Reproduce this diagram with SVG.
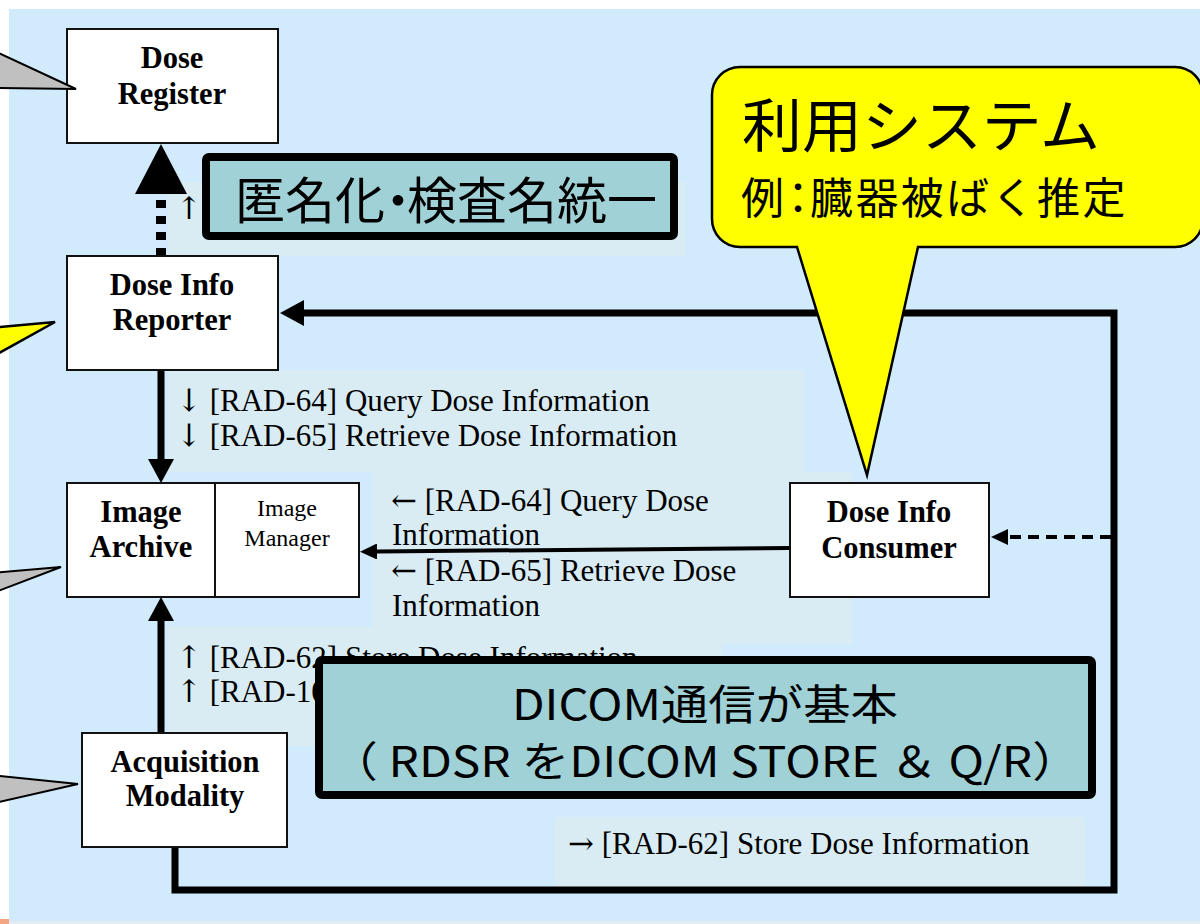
<svg xmlns="http://www.w3.org/2000/svg" width="1200" height="924" viewBox="0 0 1200 924">
<style>
.node{fill:#fff;stroke:#111;stroke-width:2}
.nt{font-family:"Liberation Serif","Times New Roman",serif;font-weight:bold;font-size:30.5px;text-anchor:middle;fill:#000}
.nts{font-family:"Liberation Serif","Times New Roman",serif;font-size:24px;text-anchor:middle;fill:#000}
.lbl{font-family:"Liberation Serif","Times New Roman",serif;font-size:31px;fill:#000}
.ar{font-family:"DejaVu Serif","Liberation Serif",serif;font-size:31px}
.lbox{fill:#D9ECF3}
.teal{fill:#9FD1D6;stroke:#000;stroke-width:8}
.jp{font-family:"Noto Sans CJK JP","Noto Sans CJK SC",sans-serif;fill:#000}
.callg{fill:#C0C0C0;stroke:#000;stroke-width:2;stroke-linejoin:miter}
.cally{fill:#FFFF00;stroke:#000;stroke-width:2.5}
.thick{fill:none;stroke:#000;stroke-width:7}
.mid{fill:none;stroke:#000;stroke-width:4}
</style>
<defs>
<marker id="aL" viewBox="0 0 24 26" refX="0" refY="13" markerWidth="24" markerHeight="26" markerUnits="userSpaceOnUse" orient="auto"><path d="M0,0 L24,13 L0,26 Z" fill="#000"/></marker>
<marker id="aXL" viewBox="0 0 50 52" refX="0" refY="26" markerWidth="50" markerHeight="52" markerUnits="userSpaceOnUse" orient="auto"><path d="M0,0 L50,26 L0,52 Z" fill="#000"/></marker>
<marker id="aS" viewBox="0 0 17 16" refX="0" refY="8" markerWidth="17" markerHeight="16" markerUnits="userSpaceOnUse" orient="auto"><path d="M0,0 L17,8 L0,16 Z" fill="#000"/></marker>
</defs>

<rect x="0" y="0" width="1200" height="924" fill="#fff"/>
<rect x="9" y="9" width="1191" height="912" fill="#D1EBFD"/>
<rect x="9" y="921" width="1191" height="3" fill="#E4ECF1"/>
<rect x="0" y="919" width="9" height="5" fill="#F4A582"/>

<g id="label-boxes">
<rect class="lbox" x="168" y="182" width="517" height="74"/>
<rect class="lbox" x="168" y="370" width="636" height="102"/>
<rect class="lbox" x="372" y="472" width="480" height="172"/>
<rect class="lbox" x="168" y="627" width="554" height="119"/>
<rect class="lbox" x="555" y="817" width="530" height="70"/>
</g>

<g id="labels">
<text class="lbl" x="176" y="219"><tspan class="ar" font-size="29">↑</tspan></text>
<text class="lbl" x="176" y="411"><tspan class="ar">↓</tspan> [RAD-64] Query Dose Information</text>
<text class="lbl" x="176" y="446"><tspan class="ar">↓</tspan> [RAD-65] Retrieve Dose Information</text>
<text class="lbl" x="391" y="511"><tspan class="ar" font-size="33">←</tspan> [RAD-64] Query Dose</text>
<text class="lbl" x="392" y="545">Information</text>
<text class="lbl" x="391" y="581"><tspan class="ar" font-size="33">←</tspan> [RAD-65] Retrieve Dose</text>
<text class="lbl" x="392" y="616">Information</text>
<text class="lbl" x="176" y="668"><tspan class="ar">↑</tspan> [RAD-62] Store Dose Information</text>
<text class="lbl" x="176" y="702"><tspan class="ar">↑</tspan> [RAD-10]</text>
<text class="lbl" x="568" y="854"><tspan class="ar">→</tspan> [RAD-62] Store Dose Information</text>
</g>

<g id="connectors">
<line x1="161" y1="256" x2="161" y2="194" fill="none" stroke="#000" stroke-width="10" stroke-dasharray="8 8" marker-end="url(#aXL)"/>
<line class="thick" x1="161" y1="370" x2="161" y2="459" marker-end="url(#aL)"/>
<line class="thick" x1="161" y1="733" x2="161" y2="621" marker-end="url(#aL)"/>
<line class="mid" x1="790" y1="548" x2="377" y2="551.5" marker-end="url(#aS)"/>
<path class="thick" d="M175,847 V890 H1114 V313 H304" stroke-linejoin="miter" marker-end="url(#aL)"/>
<line class="mid" x1="1111" y1="537" x2="1008" y2="537" stroke-dasharray="11 7" marker-end="url(#aS)"/>
</g>

<g id="dose-register">
<rect class="node" x="67" y="29" width="211" height="114"/>
<text class="nt" x="172" y="68">Dose</text>
<text class="nt" x="172" y="104">Register</text>
</g>
<g id="dose-info-reporter">
<rect class="node" x="67" y="256" width="211" height="114"/>
<text class="nt" x="172" y="295">Dose Info</text>
<text class="nt" x="172" y="330">Reporter</text>
</g>
<g id="image-archive">
<rect class="node" x="67" y="483" width="292" height="114"/>
<line x1="215" y1="483" x2="215" y2="597" stroke="#111" stroke-width="2"/>
<text class="nt" x="141" y="522">Image</text>
<text class="nt" x="141" y="557">Archive</text>
<text class="nts" x="287" y="516">Image</text>
<text class="nts" x="287" y="546">Manager</text>
</g>
<g id="acquisition-modality">
<rect class="node" x="82" y="733" width="205" height="114"/>
<text class="nt" x="185" y="772">Acquisition</text>
<text class="nt" x="185" y="806">Modality</text>
</g>
<g id="dose-info-consumer">
<rect class="node" x="790" y="483" width="199" height="114"/>
<text class="nt" x="889" y="522">Dose Info</text>
<text class="nt" x="889" y="558">Consumer</text>
</g>

<g id="callouts">
<polygon class="callg" points="-10,49 76,89 -10,88"/>
<polygon class="cally" points="-10,328 55,322 -10,358"/>
<polygon class="callg" points="-10,573 61,567 -10,594"/>
<polygon class="callg" points="-10,775 78,784 -10,804"/>
<path class="cally" d="M740,67 H1175 A28,28 0 0 1 1203,95 V219 A28,28 0 0 1 1175,247 H918 L867,475 L797,247 H740 A28,28 0 0 1 712,219 V95 A28,28 0 0 1 740,67 Z"/>
<text class="jp" x="742" y="147" font-size="58" textLength="358" lengthAdjust="spacingAndGlyphs">利用システム</text>
<text class="jp" x="741" y="214" font-size="43" dx="0 -7.5 -9.5 2.4 2.4 2.4 2.4 2.4 2.4">例：臓器被ばく推定</text>
</g>

<g id="note-anonymize">
<rect class="teal" x="206" y="157" width="468" height="79" rx="3"/>
<text class="jp" x="235" y="219" font-size="50" dx="0 0 0 -12 -16">匿名化・検査名統一</text>
</g>

<g id="note-dicom">
<rect class="teal" x="319" y="660" width="773" height="135" rx="3"/>
<text class="jp" x="705" y="720" font-size="42" text-anchor="middle" textLength="386" lengthAdjust="spacingAndGlyphs">DICOM通信が基本</text>
<text class="jp" x="705" y="777" font-size="42" text-anchor="middle" textLength="750" lengthAdjust="spacingAndGlyphs">（ RDSR をDICOM STORE ＆ Q/R）</text>
</g>
</svg>
